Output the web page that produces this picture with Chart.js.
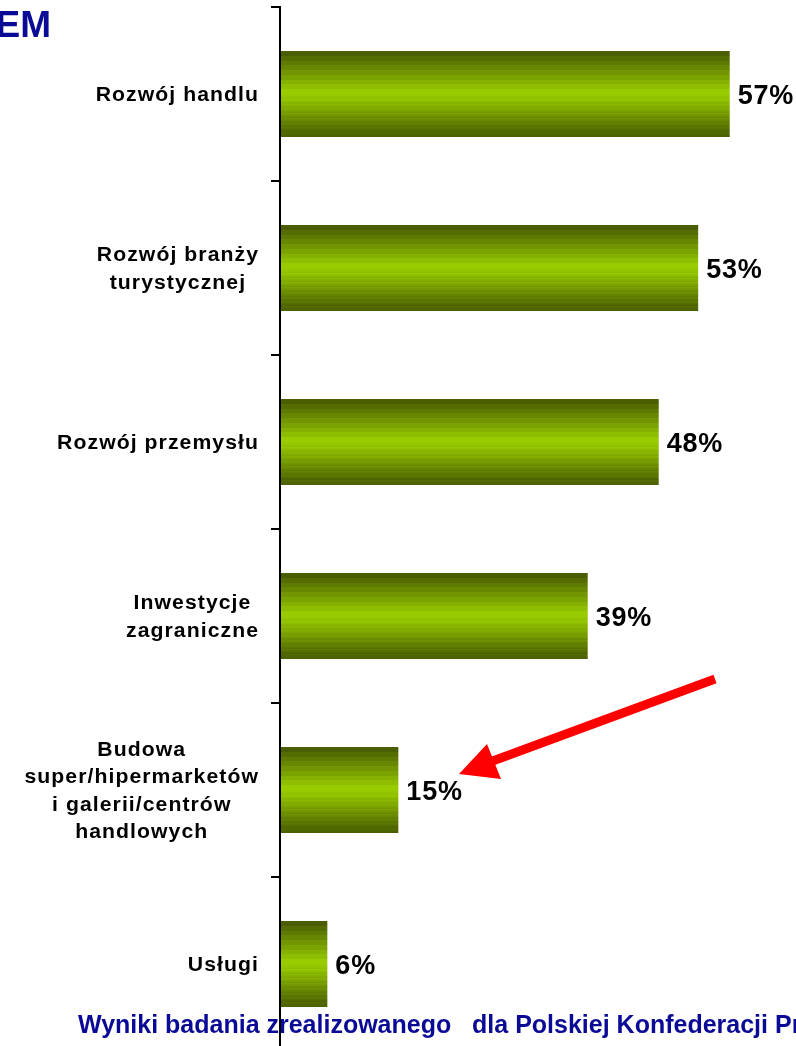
<!DOCTYPE html>
<html>
<head>
<meta charset="utf-8">
<script src="https://cdn.jsdelivr.net/npm/chart.js@4/dist/chart.umd.min.js"></script>
<style>
  html, body { margin: 0; padding: 0; background: #fff; overflow: hidden; }
  #wrap { width: 796px; height: 1060px; }
</style>
</head>
<body>
<div id="wrap"><canvas id="barChart" width="796" height="1060"></canvas></div>
<script>
// Data
const categories = [
    'Rozwój handlu',
    ['Rozwój branży', 'turystycznej'],
    'Rozwój przemysłu',
    ['Inwestycje', 'zagraniczne'],
    ['Budowa', 'super/hipermarketów', 'i galerii/centrów', 'handlowych'],
    'Usługi'
];
const values = [57, 53, 48, 39, 15, 6];
const valueLabels = ['57%', '53%', '48%', '39%', '15%', '6%'];

const FONT = '"Liberation Sans", Arial, sans-serif';
const BAR_PCT = 0.494;

// Banded green gradient (dark edges, bright middle)
function barGradient(c) {
    var chart = c.chart;
    var yScale = chart.scales.y;
    if (!chart.chartArea || !yScale || c.dataIndex === undefined) return '#88ae00';
    var cy = yScale.getPixelForValue(c.dataIndex);
    var band = (yScale.bottom - yScale.top) / categories.length;
    var h = band * BAR_PCT;
    var g = chart.ctx.createLinearGradient(0, cy - h / 2, 0, cy + h / 2);
    var dark = [74, 94, 0], light = [153, 204, 0];
    var n = 9;
    for (var i = 0; i < n; i++) {
        var t = i / (n - 1);
        var col = 'rgb(' + dark.map(function (d, k) { return Math.round(d + (light[k] - d) * t); }).join(',') + ')';
        var a = i / (2 * n), b = (i + 1) / (2 * n);
        g.addColorStop(a, col); g.addColorStop(b, col);
        g.addColorStop(1 - b, col); g.addColorStop(1 - a, col);
    }
    return g;
}

// stretched text helper
function wideText(ctx, txt, x, y, sx) {
    ctx.save();
    ctx.translate(x, y);
    ctx.scale(sx, 1);
    ctx.fillText(txt, 0, 0);
    ctx.restore();
}

// Category labels: each block centred, blocks right-aligned to the axis
const labelPlugin = {
    id: 'labels',
    afterDraw(chart) {
        var ctx = chart.ctx;
        var yScale = chart.scales.y;
        var sx = 1.06;
        ctx.save();
        ctx.fillStyle = '#000';
        ctx.font = 'bold 20px ' + FONT;
        ctx.letterSpacing = '1px';
        ctx.textAlign = 'center';
        ctx.textBaseline = 'alphabetic';
        var lh = 27.5;
        categories.forEach(function (lab, i) {
            var lines = Array.isArray(lab) ? lab : [lab];
            var w = sx * Math.max.apply(null, lines.map(function (l) { return ctx.measureText(l).width; }));
            var cx = 258 - w / 2;
            var cy = yScale.getPixelForValue(i);
            lines.forEach(function (l, j) {
                wideText(ctx, l, cx + 1, cy + 7 + (j - (lines.length - 1) / 2) * lh, sx);
            });
        });

        // value labels
        var meta = chart.getDatasetMeta(0);
        ctx.font = 'bold 27px ' + FONT;
        ctx.letterSpacing = '0.8px';
        ctx.textAlign = 'left';
        meta.data.forEach(function (bar, i) {
            ctx.fillText(valueLabels[i], bar.x + 8, bar.y + 10);
        });

        // header fragment
        ctx.letterSpacing = '0px';
        ctx.fillStyle = '#0a0a96';
        ctx.font = 'bold 37px ' + FONT;
        ctx.textAlign = 'right';
        ctx.fillText('EM', 51, 37);

        // footnote
        ctx.font = 'bold 25px ' + FONT;
        ctx.textAlign = 'left';
        ctx.fillText('Wyniki badania zrealizowanego   dla Polskiej Konfederacji Pracodawców Prywatnych', 78, 1033);

        // red arrow
        ctx.strokeStyle = '#ff0000';
        ctx.fillStyle = '#ff0000';
        ctx.lineWidth = 9;
        ctx.beginPath();
        ctx.moveTo(715, 679);
        ctx.lineTo(490, 762);
        ctx.stroke();
        ctx.beginPath();
        ctx.moveTo(459, 774);
        ctx.lineTo(487, 744);
        ctx.lineTo(501, 779);
        ctx.closePath();
        ctx.fill();

        // axis line on top of footnote
        ctx.fillStyle = '#000';
        ctx.fillRect(279, yScale.top, 2, yScale.bottom - yScale.top);
        ctx.restore();
    }
};

// Chart
const ctx = document.getElementById('barChart').getContext('2d');
const barChart = new Chart(ctx, {
    type: 'bar',
    data: {
        labels: categories,
        datasets: [{
            data: values,
            backgroundColor: barGradient,
            borderWidth: 0,
            categoryPercentage: 1,
            barPercentage: BAR_PCT
        }]
    },
    options: {
        indexAxis: 'y',
        responsive: false,
        animation: false,
        layout: { padding: { top: 7, bottom: 9, left: 0, right: 0 } },
        plugins: { legend: { display: false }, tooltip: { enabled: false } },
        scales: {
            x: { display: false, min: 0, max: 65.4 },
            y: {
                ticks: { display: false },
                grid: { offset: true, drawOnChartArea: false, drawTicks: true, tickLength: 9, color: '#000', lineWidth: 2 },
                border: { display: true, color: '#000', width: 2 },
                afterFit: function (scale) { scale.width = 280; }
            }
        }
    },
    plugins: [labelPlugin]
});
</script>
</body>
</html>
